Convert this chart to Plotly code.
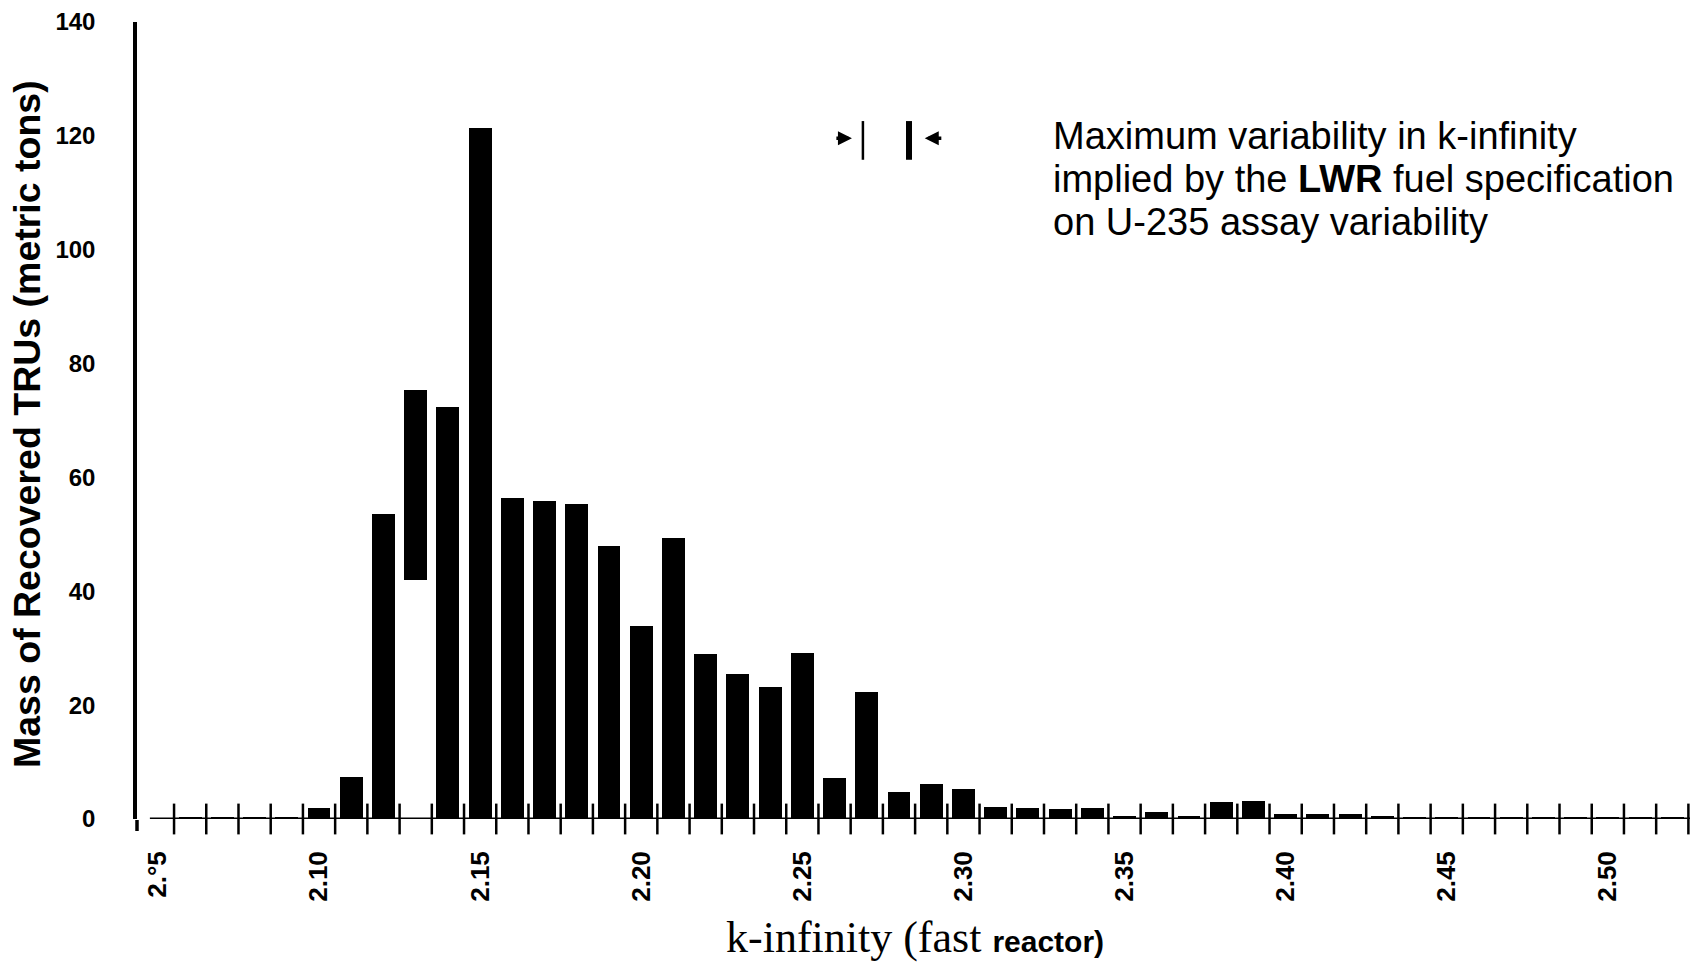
import plotly.graph_objects as go

# ---------------- data ----------------
k_values = [2.05, 2.06, 2.07, 2.08, 2.09, 2.10, 2.11, 2.12, 2.13, 2.14,
            2.15, 2.16, 2.17, 2.18, 2.19, 2.20, 2.21, 2.22, 2.23, 2.24,
            2.25, 2.26, 2.27, 2.28, 2.29, 2.30, 2.31, 2.32, 2.33, 2.34,
            2.35, 2.36, 2.37, 2.38, 2.39, 2.40, 2.41, 2.42, 2.43, 2.44,
            2.45, 2.46, 2.47, 2.48, 2.49, 2.50, 2.51, 2.52]
mass_top = [0.0, 0.3, 0.3, 0.3, 0.3, 1.9, 7.4, 53.5, 75.4, 72.3,
            121.4, 56.3, 55.8, 55.3, 47.9, 33.9, 49.4, 29.0, 25.4, 23.2,
            29.1, 7.2, 22.3, 4.7, 6.1, 5.3, 2.1, 1.9, 1.7, 1.9,
            0.6, 1.2, 0.5, 2.9, 3.2, 0.9, 0.8, 0.8, 0.5, 0.3,
            0.3, 0.3, 0.3, 0.3, 0.3, 0.3, 0.3, 0.3]
# the scanned bar at 2.13 is only drawn from 42 upward
bar_base = [0.0] * 8 + [42.0] + [0.0] * 39

x_tick_vals = [2.05, 2.10, 2.15, 2.20, 2.25, 2.30, 2.35, 2.40, 2.45, 2.50]
x_tick_text = ["2.°5", "2.10", "2.15", "2.20", "2.25", "2.30", "2.35", "2.40", "2.45", "2.50"]
y_tick_vals = [0, 20, 40, 60, 80, 100, 120, 140]

bin_half = 0.005
bin_edges = [round(k + bin_half, 3) for k in k_values]

# variability bracket (k-infinity span and mass level)
bracket_k = [2.2688, 2.2831]
bracket_mass = [115.8, 122.6]
arrow_mass = 119.6

# ---------------- figure ----------------
W, H = 1693, 962
ML, MR, MT, MB = 137, 3, 22, 143
PW, PH = W - ML - MR, H - MT - MB


def px_x(p):
    return (p - ML) / PW


def px_y(p):
    return (H - MB - p) / PH


fig = go.Figure()

fig.add_trace(go.Bar(
    x=k_values,
    y=[t - b for t, b in zip(mass_top, bar_base)],
    base=bar_base,
    width=0.0071,
    marker=dict(color="black", line=dict(width=0)),
    showlegend=False,
    hoverinfo="skip",
))

# crossing tick marks at bin edges on the baseline
fig.add_trace(go.Scatter(
    x=bin_edges,
    y=[0] * len(bin_edges),
    mode="markers",
    marker=dict(symbol="line-ns", size=22, color="black",
                line=dict(width=2.5, color="black")),
    cliponaxis=False,
    showlegend=False,
    hoverinfo="skip",
))

shapes = []
# baseline
shapes.append(dict(type="line", xref="x", yref="y", x0=2.0475, x1=2.5255, y0=0, y1=0,
                   line=dict(color="black", width=3)))
# y axis line extension below zero
shapes.append(dict(type="line", xref="paper", yref="paper", x0=0, x1=0,
                   y0=px_y(820), y1=px_y(831), line=dict(color="black", width=3.5)))
# bracket bars
shapes.append(dict(type="line", xref="x", yref="y", x0=bracket_k[0], x1=bracket_k[0],
                   y0=bracket_mass[0], y1=bracket_mass[1], line=dict(color="black", width=2.5)))
shapes.append(dict(type="line", xref="x", yref="y", x0=bracket_k[1], x1=bracket_k[1],
                   y0=bracket_mass[0], y1=bracket_mass[1], line=dict(color="black", width=6)))

annotations = []
# arrows pointing at the bracket
annotations.append(dict(x=bracket_k[0] - 0.0034, y=arrow_mass, ax=bracket_k[0] - 0.0087, ay=arrow_mass,
                        xref="x", yref="y", axref="x", ayref="y", showarrow=True,
                        arrowhead=2, arrowsize=0.8, arrowwidth=3.5, arrowcolor="black", text=""))
annotations.append(dict(x=bracket_k[1] + 0.0049, y=arrow_mass, ax=bracket_k[1] + 0.0105, ay=arrow_mass,
                        xref="x", yref="y", axref="x", ayref="y", showarrow=True,
                        arrowhead=2, arrowsize=0.8, arrowwidth=3.5, arrowcolor="black", text=""))

note_lines = ["Maximum variability in k-infinity",
              "implied by the <b>LWR</b> fuel specification",
              "on U-235 assay variability"]
for i, line in enumerate(note_lines):
    annotations.append(dict(text=line, xref="paper", yref="paper",
                            x=px_x(1051), y=px_y(136 + 43 * i),
                            xanchor="left", yanchor="middle", showarrow=False,
                            font=dict(family="Liberation Sans, Arial", size=38, color="black")))

# y axis title
annotations.append(dict(text="Mass of Recovered TRUs (metric tons)", xref="paper", yref="paper",
                        x=px_x(27), y=px_y(424), xanchor="center", yanchor="middle",
                        textangle=-90, showarrow=False,
                        font=dict(family="Liberation Sans, Arial", size=37.5, color="black", weight="bold")))

# x axis title (serif part + bold sans part)
annotations.append(dict(
    text="k-infinity (fast <b><span style='font-family:Liberation Sans, Arial;font-size:30px'>reactor)</span></b>",
    xref="paper", yref="paper", x=px_x(915), y=px_y(938), xanchor="center", yanchor="middle",
    showarrow=False,
    font=dict(family="Liberation Serif, Times New Roman", size=44, color="black")))

fig.update_layout(
    width=W, height=H,
    margin=dict(l=ML, r=MR, t=MT, b=MB),
    paper_bgcolor="white", plot_bgcolor="white",
    bargap=0,
    shapes=shapes,
    annotations=annotations,
    xaxis=dict(
        range=[2.0435, 2.5255],
        tickvals=x_tick_vals, ticktext=x_tick_text,
        tickangle=-90, ticks="", showline=False, showgrid=False, zeroline=False,
        ticklabelstandoff=26,
        tickfont=dict(family="Liberation Sans, Arial", size=26, color="black", weight="bold"),
    ),
    yaxis=dict(
        range=[0, 140],
        tickvals=y_tick_vals, ticks="", showline=True, linecolor="black", linewidth=3.5,
        showgrid=False, zeroline=False,
        ticklabelstandoff=33,
        tickfont=dict(family="Liberation Sans, Arial", size=24, color="black", weight="bold"),
    ),
)

fig.write_html("out.html")
